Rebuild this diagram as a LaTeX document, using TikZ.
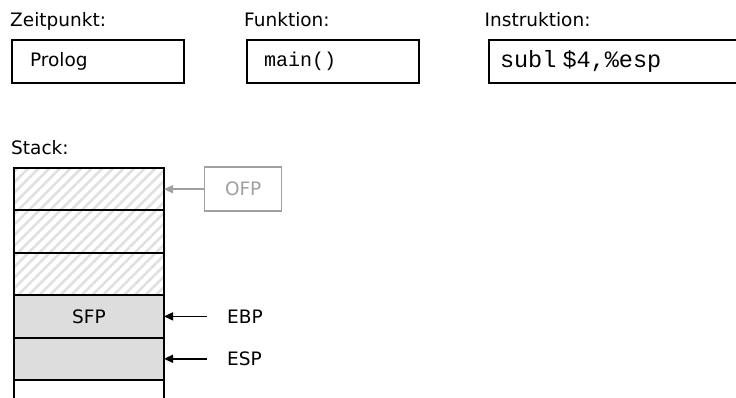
\documentclass[tikz,border=0pt]{standalone}
\usepackage{fontspec}
\setmainfont{DejaVu Sans}
\setmonofont{Liberation Mono}
\usetikzlibrary{positioning,patterns.meta,arrows.meta}

\definecolor{cellgray}{HTML}{DDDDDD}
\definecolor{hatchgray}{HTML}{E0E0E0}
\definecolor{oldgray}{HTML}{A0A0A0}

\tikzset{
  caption/.style={anchor=base west, inner sep=0pt},
  field/.style={draw, line width=1.4pt, anchor=north west, minimum height=43pt,
    text width=#1, align=left, inner ysep=0pt, outer sep=0pt},
  cell/.style={draw, line width=1.8pt, minimum width=150pt, minimum height=42.4pt,
    inner sep=0pt, outer sep=0pt, anchor=north west},
  used/.style={cell, fill=cellgray},
  free/.style={cell, pattern={Lines[angle=45, distance=7.5pt, line width=2.6pt]},
    pattern color=hatchgray},
  ptr/.style={{Triangle[length=9pt, width=8pt]}-, line width=1.4pt},
  reg/.style={inner sep=0pt},
}

\begin{document}
\begin{tikzpicture}[x=1pt, y=-1pt, font=\fontsize{18.5}{22}\selectfont]
  \useasboundingbox (0,0) rectangle (736,398);
  \clip (0,0) rectangle (736,398);

  % state line
  \node[caption] (lbltime) at (10,27) {Zeitpunkt:};
  \node[caption] (lblfunc) at (244,27) {Funktion:};
  \node[caption] (lblinstr) at (484.5,27) {Instruktion:};
  \node[field=136pt, inner xsep=18pt] (time) at (12,40) {Prolog};
  \node[field=138pt, inner xsep=17pt] (func) at (247,40) {\fontsize{20}{22}\selectfont\ttfamily main()};
  \node[field=260pt, inner xsep=11pt] (instr) at (489,40) {\fontsize{23.5}{24}\selectfont\ttfamily subl \$4,\%esp};

  % stack
  \node[caption] (lblstack) at (11,155) {Stack:};
  \node[free] (s1) at (14,168) {};
  \node[free, below=0pt of s1.south west, anchor=north west] (s2) {};
  \node[free, below=0pt of s2.south west, anchor=north west] (s3) {};
  \node[used, below=0pt of s3.south west, anchor=north west] (s4) {SFP};
  \node[used, below=0pt of s4.south west, anchor=north west] (s5) {};
  \node[cell, below=0pt of s5.south west, anchor=north west] (s6) {};

  % pointers
  \node[draw=oldgray, text=oldgray, line width=1.4pt, minimum width=77pt,
    minimum height=44pt, right=40pt of s1.east] (ofp) {OFP};
  \draw[ptr, draw=oldgray, fill=oldgray] (s1.east) -- (ofp.west);
  \node[reg, right=63pt of s4.east] (ebp) {EBP};
  \draw[ptr] (s4.east) -- ([xshift=-20pt]ebp.west);
  \node[reg, right=63pt of s5.east] (esp) {ESP};
  \draw[ptr] (s5.east) -- ([xshift=-20pt]esp.west);
\end{tikzpicture}
\end{document}
